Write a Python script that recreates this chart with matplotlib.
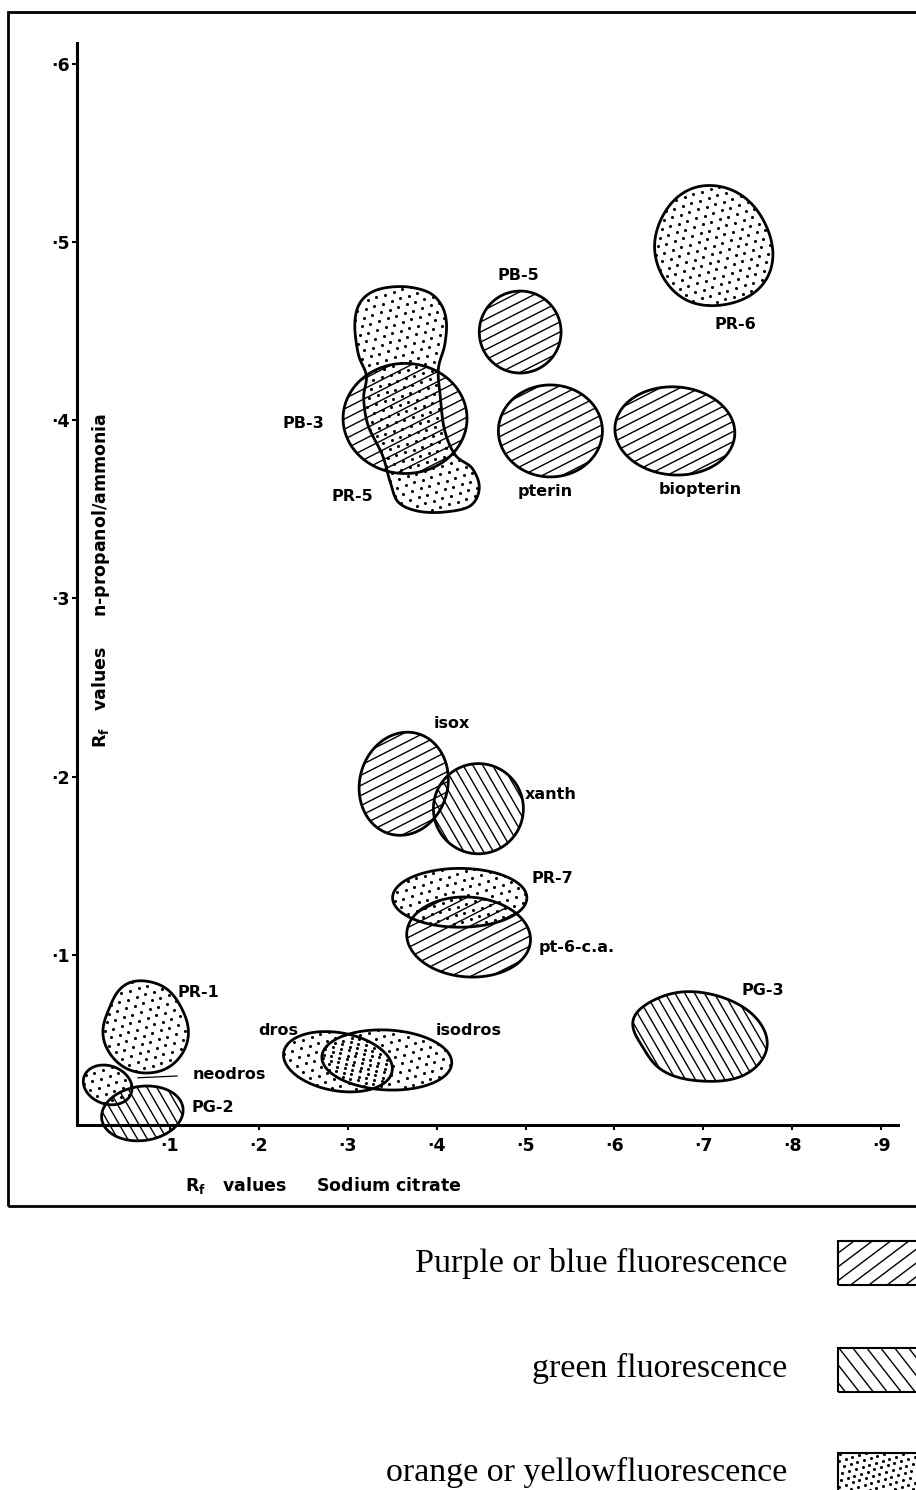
import numpy as np
import matplotlib
matplotlib.use("Agg")
import matplotlib.pyplot as plt
from matplotlib.path import Path
from matplotlib.patches import PathPatch, Rectangle
from matplotlib.collections import LineCollection
from matplotlib.lines import Line2D
from matplotlib.transforms import IdentityTransform

# ---------------------------------------------------------------------------
# Two-dimensional chromatogram: spot positions (Rf values)
# ---------------------------------------------------------------------------
spot_names = ["PR-6", "PB-5", "pterin", "biopterin", "PB-3", "isox", "xanth",
              "PR-7", "pt-6-c.a.", "PR-1", "neodros", "PG-2", "dros",
              "isodros", "PG-3"]
spot_kind = ["orange", "purple", "purple", "purple", "purple", "purple", "green",
             "orange", "purple", "orange", "orange", "green", "orange",
             "orange", "green"]
# centre of each spot (Rf sodium citrate, Rf n-propanol/ammonia)
spot_x = [0.710, 0.494, 0.528, 0.668, 0.3645, 0.363, 0.447,
          0.426, 0.436, 0.072, 0.030, 0.069, 0.289, 0.344, 0.696]
spot_y = [0.498, 0.4495, 0.394, 0.394, 0.401, 0.196, 0.182,
          0.132, 0.110, 0.0595, 0.027, 0.011, 0.040, 0.041, 0.054]
# half extent of each spot along both solvents
spot_rx = [0.0675, 0.046, 0.0585, 0.0675, 0.0697, 0.0495, 0.0506,
           0.0755, 0.0697, 0.0484, 0.0281, 0.0461, 0.0619, 0.0731, 0.0765]
spot_ry = [0.0337, 0.023, 0.0258, 0.0247, 0.0309, 0.0292, 0.0253,
           0.0165, 0.0224, 0.0258, 0.0107, 0.0152, 0.0163, 0.0168, 0.0247]
spot_tilt = [0, 0, 0, -4, 0, -15, 0, 0, -4, 0, -20, 8, -10, -3, -10]
# irregular outlines: radius factors at 30 degree steps around the centre
spot_profile = {
    "PR-6": [1.0, 0.95, 0.97, 1.0, 1.0, 0.96, 0.96, 0.97, 1.0, 1.0, 1.03, 1.06],
    "PR-1": [1.0, 0.94, 0.97, 1.0, 1.02, 0.93, 0.97, 1.0, 1.0, 1.0, 1.03, 1.04],
    "PG-3": [1.0, 1.0, 1.0, 1.0, 1.0, 1.0, 1.0, 0.92, 1.0, 1.0, 1.0, 1.0],
}

# PR-5 runs through PB-3 and has its own traced outline
pr5_x = [0.362, 0.390, 0.405, 0.411, 0.409, 0.402, 0.404, 0.409, 0.421, 0.440,
         0.448, 0.438, 0.409, 0.379, 0.357, 0.348, 0.339, 0.323, 0.318, 0.321,
         0.312, 0.308, 0.314, 0.332]
pr5_y = [0.475, 0.472, 0.465, 0.455, 0.442, 0.429, 0.414, 0.3945, 0.3805, 0.373,
         0.362, 0.352, 0.3485, 0.349, 0.354, 0.365, 0.3805, 0.397, 0.4125, 0.425,
         0.437, 0.454, 0.466, 0.473]

# label positions
label_names = ["PB-5", "PR-6", "PB-3", "pterin", "biopterin", "PR-5", "isox",
               "xanth", "PR-7", "pt-6-c.a.", "PR-1", "dros", "isodros",
               "neodros", "PG-2", "PG-3"]
label_x = [0.492, 0.736, 0.250, 0.522, 0.697, 0.305, 0.417,
           0.528, 0.530, 0.558, 0.132, 0.222, 0.436, 0.167, 0.148, 0.767]
label_y = [0.481, 0.454, 0.398, 0.360, 0.361, 0.357, 0.230,
           0.190, 0.143, 0.104, 0.0786, 0.0578, 0.0578, 0.0331, 0.0146, 0.0797]
neodros_lead_x = [0.064, 0.108]
neodros_lead_y = [0.031, 0.032]

x_ticks = [0.1, 0.2, 0.3, 0.4, 0.5, 0.6, 0.7, 0.8, 0.9]
x_ticklabels = ["·1", "·2", "·3", "·4", "·5", "·6", "·7", "·8", "·9"]
y_ticks = [0.1, 0.2, 0.3, 0.4, 0.5, 0.6]
y_ticklabels = ["·1", "·2", "·3", "·4", "·5", "·6"]

legend_labels = ["Purple or blue fluorescence", "green fluorescence",
                 "orange or yellowfluorescence"]
legend_kinds = ["purple", "green", "orange"]

# texture styles (angle in degrees, spacing in pixels)
hatch_style = {"purple": (27, 9.0), "green": (-60, 8.5)}
legend_hatch_style = {"purple": (37, 11.0), "green": (-52, 11.0)}

# ---------------------------------------------------------------------------
W, H = 916, 1490
fig = plt.figure(figsize=(W / 100, H / 100), dpi=100)
AX_L, AX_R, AX_T, AX_B = 77, 898, 43, 1125
ax = fig.add_axes([AX_L / W, 1 - AX_B / H, (AX_R - AX_L) / W, (AX_B - AX_T) / H])
ax.set_xlim(-0.0045, 0.919)
ax.set_ylim(0.0045, 0.6117)
ax.patch.set_visible(False)
for s in ("top", "right"):
    ax.spines[s].set_visible(False)
for s in ("left", "bottom"):
    ax.spines[s].set_linewidth(2.2)
ax.set_xticks(x_ticks)
ax.set_xticklabels(x_ticklabels)
ax.set_yticks(y_ticks)
ax.set_yticklabels(y_ticklabels)
ax.tick_params(axis="both", direction="out", length=3.8, width=1.5,
               labelsize=12.5)
ax.tick_params(axis="x", pad=5)
ax.tick_params(axis="y", pad=1.5)
for lab in ax.get_xticklabels() + ax.get_yticklabels():
    lab.set_fontweight("bold")

to_disp = ax.transData
to_data = ax.transData.inverted()


def periodic_profile(f, t):
    f = np.asarray(f, float)
    n = len(f)
    c = np.fft.fft(f) / n
    r = np.full_like(t, c[0].real)
    for k in range(1, n // 2 + 1):
        if 2 * k == n:
            r += c[k].real * np.cos(k * t)
        else:
            r += 2 * (c[k] * np.exp(1j * k * t)).real
    return r


def spot_path(cx, cy, rx, ry, tilt, prof=None, n=260):
    c = to_disp.transform([[cx, cy]])[0]
    rxp = to_disp.transform([[cx + rx, cy]])[0][0] - c[0]
    ryp = to_disp.transform([[cx, cy + ry]])[0][1] - c[1]
    t = np.linspace(0, 2 * np.pi, n, endpoint=False)
    f = periodic_profile(prof, t) if prof is not None else 1.0
    u = f * rxp * np.cos(t)
    v = f * ryp * np.sin(t)
    a = np.radians(tilt)
    pts = np.column_stack([c[0] + u * np.cos(a) - v * np.sin(a),
                           c[1] + u * np.sin(a) + v * np.cos(a)])
    pts = to_data.transform(pts)
    return Path(np.vstack([pts, pts[:1]]), closed=True)


def smooth_closed(xs, ys, m=14):
    P = to_disp.transform(np.column_stack([xs, ys]))
    n = len(P)
    out = []
    for i in range(n):
        p0, p1, p2, p3 = P[i - 1], P[i], P[(i + 1) % n], P[(i + 2) % n]
        for s in np.linspace(0, 1, m, endpoint=False):
            out.append(0.5 * (2 * p1 + (-p0 + p2) * s
                              + (2 * p0 - 5 * p1 + 4 * p2 - p3) * s ** 2
                              + (-p0 + 3 * p1 - 3 * p2 + p3) * s ** 3))
    out = to_data.transform(np.array(out))
    return Path(np.vstack([out, out[:1]]), closed=True)


def patch_pixels(patch):
    return patch.get_transform().transform(patch.get_path().vertices)


def add_lines(patch, angle, spacing, lw=1.0):
    v = patch_pixels(patch)
    c = (v.min(0) + v.max(0)) / 2
    R = np.hypot(*(v.max(0) - v.min(0))) / 2 + spacing
    a = np.radians(angle)
    d = np.array([np.cos(a), np.sin(a)])
    nrm = np.array([-np.sin(a), np.cos(a)])
    k = np.arange(-int(R / spacing) - 1, int(R / spacing) + 2)
    segs = [[c + kk * spacing * nrm - R * d, c + kk * spacing * nrm + R * d]
            for kk in k]
    lc = LineCollection(segs, colors="black", linewidths=lw,
                        transform=IdentityTransform())
    lc.set_clip_path(patch)
    fig.add_artist(lc)


def add_dots(patch, step=9.0, ms=2.2, rot=17):
    v = patch_pixels(patch)
    c = (v.min(0) + v.max(0)) / 2
    R = np.hypot(*(v.max(0) - v.min(0))) / 2 + step
    n = int(R / step) + 2
    pts = []
    for j in range(-n, n + 1):
        off = 0.5 * step if j % 2 else 0.0
        for i in range(-n, n + 1):
            pts.append((i * step + off, j * step * 0.87))
    pts = np.array(pts)
    a = np.radians(rot)
    rx = pts[:, 0] * np.cos(a) - pts[:, 1] * np.sin(a) + c[0]
    ry = pts[:, 0] * np.sin(a) + pts[:, 1] * np.cos(a) + c[1]
    ln = Line2D(rx, ry, ls="none", marker="o", ms=ms, mfc="black",
                mec="none", transform=IdentityTransform())
    ln.set_clip_path(patch)
    fig.add_artist(ln)


def texture(patch, kind, styles, step=9.0):
    if kind == "orange":
        add_dots(patch, step=step)
    else:
        ang, sp = styles[kind]
        add_lines(patch, ang, sp)


# spots
for i, name in enumerate(spot_names):
    path = spot_path(spot_x[i], spot_y[i], spot_rx[i], spot_ry[i],
                     spot_tilt[i], spot_profile.get(name))
    p = PathPatch(path, facecolor="none", edgecolor="black", lw=2.0,
                  transform=ax.transData, clip_on=False, zorder=3)
    ax.add_patch(p)
    texture(p, spot_kind[i], hatch_style)

pr5 = PathPatch(smooth_closed(pr5_x, pr5_y), facecolor="none",
                edgecolor="black", lw=2.0, transform=ax.transData,
                clip_on=False, zorder=3)
ax.add_patch(pr5)
texture(pr5, "orange", hatch_style)

# labels
for name, lx, ly in zip(label_names, label_x, label_y):
    ax.text(lx, ly, name, ha="center", va="center", fontsize=11.5,
            fontweight="bold", clip_on=False)
ax.plot(neodros_lead_x, neodros_lead_y, color="black", lw=0.9, clip_on=False)

# axis titles
fig.text(185 / W, 1 - 1185 / H, r"R$_{\mathbf{f}}$   values     Sodium citrate",
         ha="left", va="center", fontsize=12.5, fontweight="bold")
fig.text(101 / W, 1 - 580 / H,
         r"R$_{\mathbf{f}}$   values     n-propanol/ammonia",
         ha="center", va="center", rotation=90, fontsize=12.5,
         fontweight="bold")

# frame around the chart
fig.add_artist(Rectangle((8, H - 1206), 1100, 1194, fill=False, lw=2.0,
                         edgecolor="black", transform=IdentityTransform()))

# legend
legend_baseline = [1272, 1377, 1481]
legend_box_top = [1241, 1348, 1453]
legend_box_h = 44
for lab, kind, yb, yt in zip(legend_labels, legend_kinds, legend_baseline,
                             legend_box_top):
    fig.text(787 / W, 1 - yb / H, lab, ha="right", va="baseline",
             family="Liberation Serif", fontsize=24.5)
    box = Rectangle((838, H - yt - legend_box_h), 120, legend_box_h,
                    fill=False, lw=1.5, edgecolor="black",
                    transform=IdentityTransform())
    fig.add_artist(box)
    texture(box, kind, legend_hatch_style, step=7.0)

fig.savefig("out.png", dpi=100, facecolor="white")
